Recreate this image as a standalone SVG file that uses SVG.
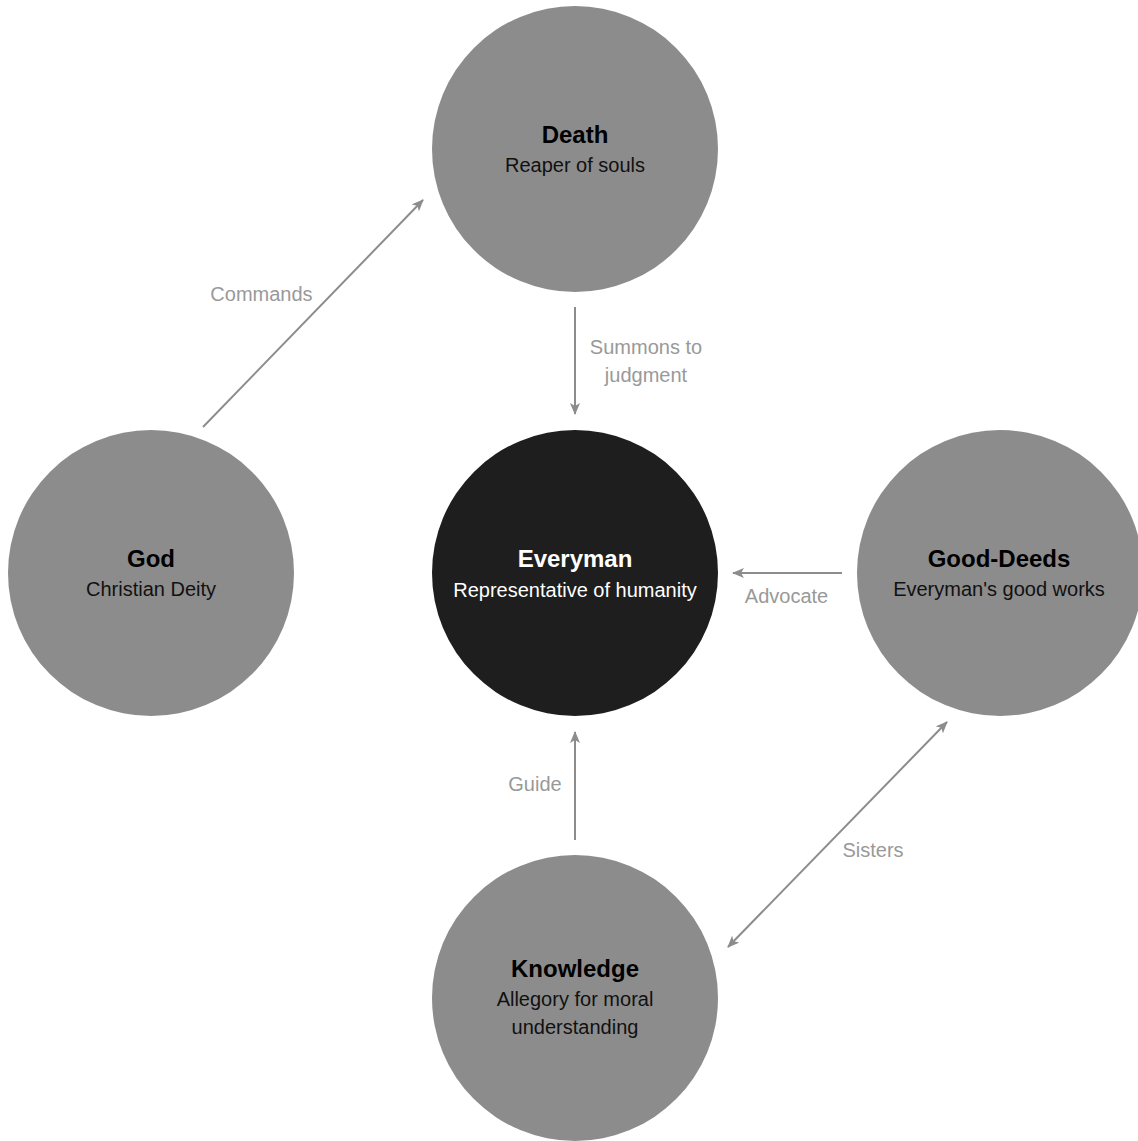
<svg xmlns="http://www.w3.org/2000/svg" width="1138" height="1141" viewBox="0 0 1138 1141">
<style>
.node{fill:#8c8c8c;}
.dark{fill:#1e1e1e;}
.t{font-family:"Liberation Sans",Arial,Helvetica,sans-serif;font-size:24px;font-weight:bold;text-anchor:middle;fill:#000;}
.s{font-family:"Liberation Sans",Arial,Helvetica,sans-serif;font-size:20px;text-anchor:middle;fill:#111;}
.w{fill:#fff;}
.e{stroke:#8c8c8c;stroke-width:2;fill:none;}
.l{font-family:"Liberation Sans",Arial,Helvetica,sans-serif;font-size:20px;text-anchor:middle;fill:#999;}
</style>
<defs>
<marker id="ah" viewBox="0 0 12 10" markerWidth="12" markerHeight="10" refX="11" refY="5" orient="auto-start-reverse" markerUnits="userSpaceOnUse">
<path d="M0,0 L12,5 L0,10 L3,5 z" fill="#8c8c8c"/>
</marker>
</defs>
<rect width="1138" height="1141" fill="#fff"/>
<g id="connectors">
<line class="e" x1="203" y1="427" x2="423" y2="200" marker-end="url(#ah)"/>
<line class="e" x1="575" y1="307" x2="575" y2="414" marker-end="url(#ah)"/>
<line class="e" x1="842" y1="573" x2="733" y2="573" marker-end="url(#ah)"/>
<line class="e" x1="575" y1="840" x2="575" y2="732" marker-end="url(#ah)"/>
<line class="e" x1="728" y1="947" x2="947" y2="722" marker-start="url(#ah)" marker-end="url(#ah)"/>
<text class="l" x="261.5" y="301">Commands</text>
<text class="l" x="646" y="354">Summons to</text>
<text class="l" x="646" y="382">judgment</text>
<text class="l" x="786.5" y="603">Advocate</text>
<text class="l" x="535" y="791">Guide</text>
<text class="l" x="873" y="857">Sisters</text>
</g>
<g id="death">
<circle class="node" cx="575" cy="149" r="143"/>
<text class="t" x="575" y="143">Death</text>
<text class="s" x="575" y="172">Reaper of souls</text>
</g>
<g id="god">
<circle class="node" cx="151" cy="573" r="143"/>
<text class="t" x="151" y="567">God</text>
<text class="s" x="151" y="596">Christian Deity</text>
</g>
<g id="everyman">
<circle class="dark" cx="575" cy="573" r="143"/>
<text class="t w" x="575" y="567">Everyman</text>
<text class="s w" x="575" y="597">Representative of humanity</text>
</g>
<g id="good-deeds">
<circle class="node" cx="1000" cy="573" r="143"/>
<text class="t" x="999" y="567">Good-Deeds</text>
<text class="s" x="999" y="596">Everyman's good works</text>
</g>
<g id="knowledge">
<circle class="node" cx="575" cy="998" r="143"/>
<text class="t" x="575" y="977">Knowledge</text>
<text class="s" x="575" y="1006">Allegory for moral</text>
<text class="s" x="575" y="1034">understanding</text>
</g>
</svg>
